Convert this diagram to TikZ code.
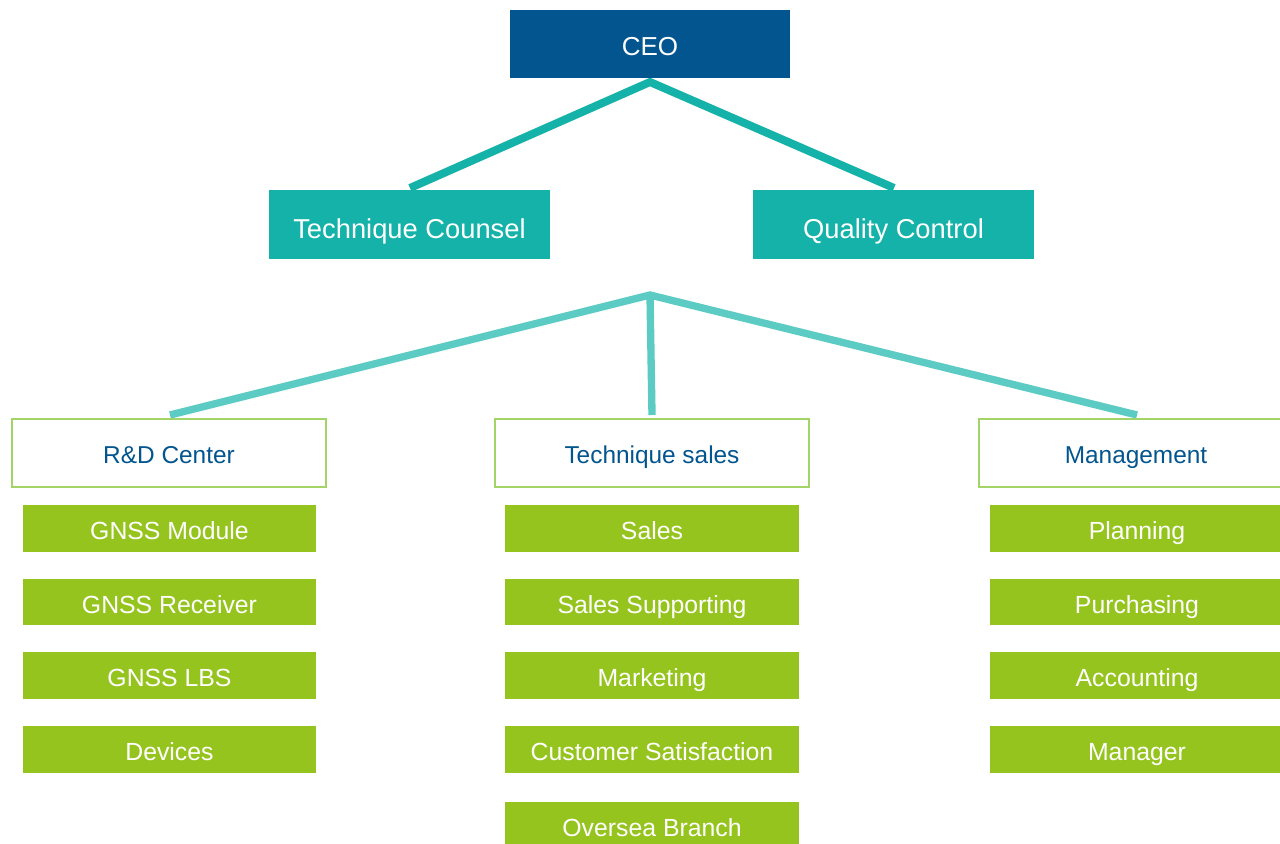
\documentclass[tikz,border=0pt]{standalone}
\usepackage{fontspec}
\setmainfont{Liberation Sans}
\definecolor{ceoblue}{HTML}{02558F}
\definecolor{teal1}{HTML}{14B2A9}
\definecolor{teal2}{HTML}{5BCBC3}
\definecolor{grn}{HTML}{96C41E}
\definecolor{grnline}{HTML}{A2D468}
\begin{document}
\begin{tikzpicture}[x=0.75pt,y=-0.75pt,
  lbl/.style={inner sep=0pt,text depth=0pt},
  topbox/.style={lbl,text height=17pt,fill=ceoblue,text=white,minimum width=210pt,minimum height=51pt,font=\fontsize{19.5}{22}\selectfont},
  midbox/.style={lbl,text height=21.5pt,fill=teal1,text=white,minimum width=211pt,minimum height=52pt,font=\fontsize{20.5}{24}\selectfont},
  deptbox/.style={lbl,text height=16.9pt,draw=grnline,line width=1.5pt,fill=white,text=ceoblue,minimum width=236pt,minimum height=51pt,font=\fontsize{18.3}{22}\selectfont},
  subbox/.style={lbl,text height=17.1pt,fill=grn,text=white,minimum width=220pt,minimum height=35pt,font=\fontsize{18.6}{22}\selectfont},
  link1/.style={draw=teal1,line width=6pt},
  link2/.style={draw=teal2,line width=5.5pt}]
\clip (0,0) rectangle (1280,843);
\fill[white] (0,0) rectangle (1280,843);
% connectors first
\coordinate (ceob) at (650,82);
\coordinate (apex) at (650,295);
\coordinate (tct) at (410,188);
\coordinate (qct) at (894,188);
\coordinate (rdt) at (170,415);
\coordinate (tst) at (652,415);
\coordinate (mgt) at (1137,415);
\draw[link1] (tct) -- (ceob) -- (qct);
\draw[link2] (rdt) -- (apex) -- (mgt);
\draw[link2] (apex) -- (tst);
% nodes
\node[topbox] (ceo) at (650,44) {CEO};
\node[midbox] (tc) at (409.5,224.5) {Technique Counsel};
\node[midbox] (qc) at (893.5,224.5) {Quality Control};
\node[deptbox] (rd) at (169,452.5) {R\&D Center};
\node[deptbox] (ts) at (652,452.5) {Technique sales};
\node[deptbox] (mg) at (1136,452.5) {Management};
% R&D column
\node[subbox] (r1) at (169.5,528.5) {GNSS Module};
\node[subbox] (r2) at (169.5,602) {GNSS Receiver};
\node[subbox] (r3) at (169.5,675.5) {GNSS LBS};
\node[subbox] (r4) at (169.5,749.5) {Devices};
% Technique sales column
\node[subbox] (s1) at (652,528.5) {Sales};
\node[subbox] (s2) at (652,602) {Sales Supporting};
\node[subbox] (s3) at (652,675.5) {Marketing};
\node[subbox] (s4) at (652,749.5) {Customer Satisfaction};
\node[subbox] (s5) at (652,825) {Oversea Branch};
% Management column
\node[subbox] (m1) at (1137,528.5) {Planning};
\node[subbox] (m2) at (1137,602) {Purchasing};
\node[subbox] (m3) at (1137,675.5) {Accounting};
\node[subbox] (m4) at (1137,749.5) {Manager};
\end{tikzpicture}
\end{document}
